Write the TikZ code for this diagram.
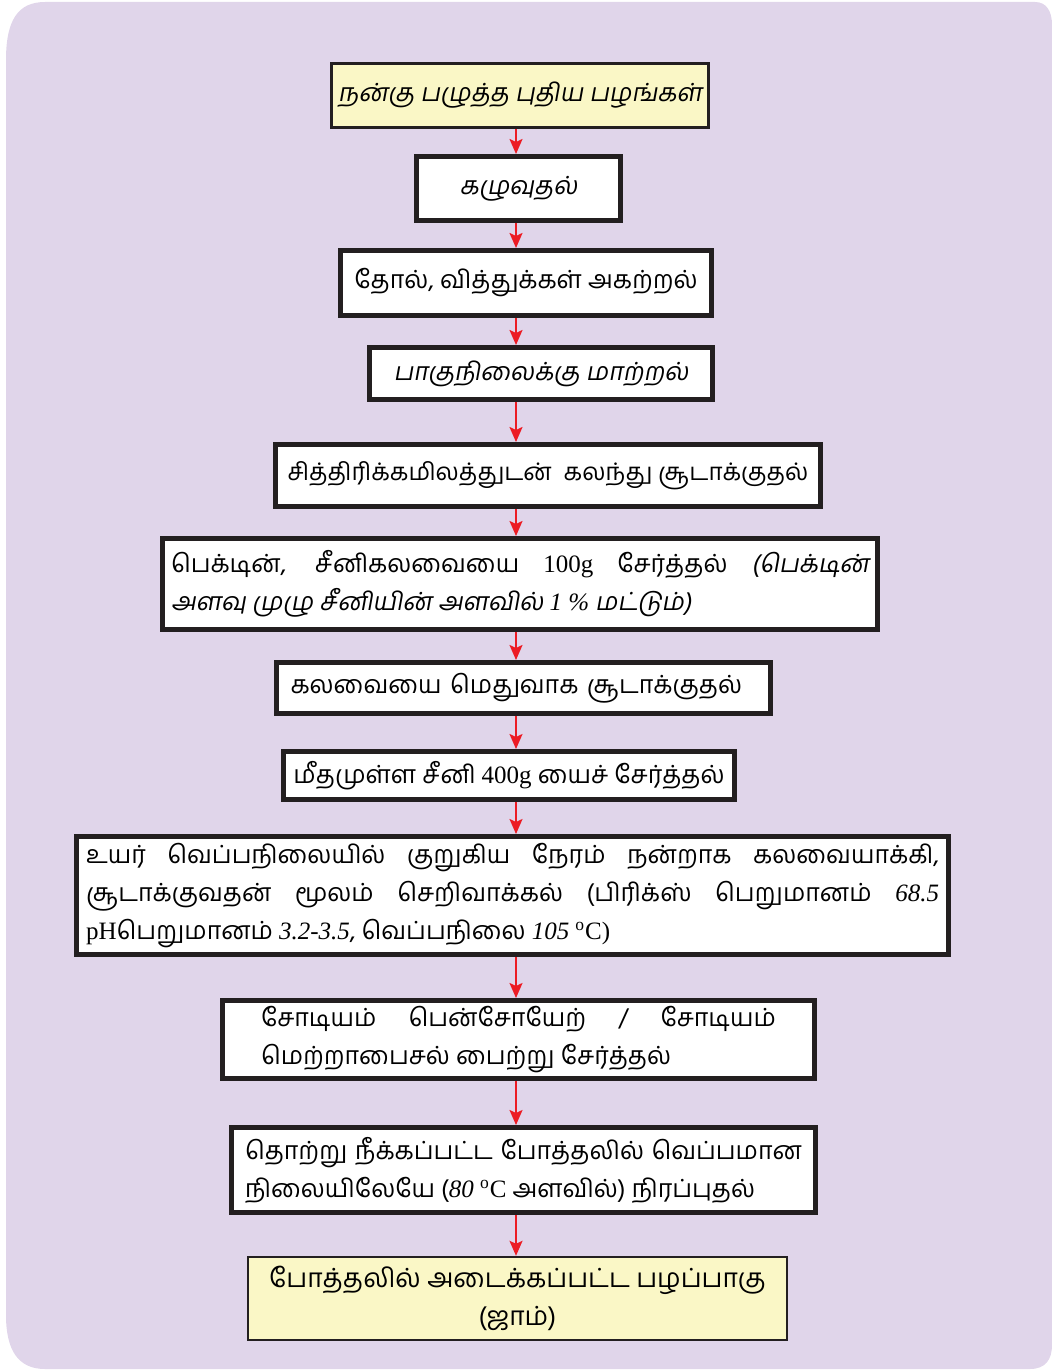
\documentclass[tikz,border=0pt]{standalone}
\usepackage{fontspec}
\usepackage{xcolor}
\usepackage{tikz}
\usetikzlibrary{
  arrows.meta,
  positioning,
  calc
}
\newfontfamily\tamil[Script=Tamil]{Hind Madurai}
\newfontfamily\tamilsl[Script=Tamil,FakeSlant=0.18]{Hind Madurai}
\newfontfamily\jmlatin{Liberation Serif}
\definecolor{jmBack}{HTML}{E0D5EA}
\definecolor{jmYellow}{HTML}{FAF7C6}
\definecolor{jmLine}{HTML}{231F20}
\definecolor{jmArrow}{HTML}{EC1C24}
\tikzset{
  jmnode/.style={
    draw=jmLine, fill=white, line width=2.5pt, inner sep=0pt,
    align=center, font=\tamil\fontsize{12.5}{19}\selectfont
  },
  stepbox/.style={jmnode},
  endbox/.style={jmnode, fill=jmYellow, line width=1.2pt},
  textbox/.style={jmnode, align=justify},
  flow/.style={-{Stealth[length=7.5pt, width=6.5pt, inset=1.5pt]}, line width=1pt, jmArrow}
}

\begin{document}
\begin{tikzpicture}[x=0.5pt, y=-0.5pt]
  \useasboundingbox (0,0) rectangle (1052,1370);
  % background panel
  \fill[jmBack] (6,1315) -- (6,60) .. controls (6,20) and (18,2) .. (45,2)
    -- (1035,2) .. controls (1047,2) and (1052,12) .. (1052,25)
    -- (1052,1345) .. controls (1052,1360) and (1045,1369) .. (1030,1369)
    -- (45,1369) .. controls (18,1369) and (6,1350) .. (6,1315) -- cycle;
  \coordinate (ax) at (516,0);

  \node[endbox, minimum width=188.5pt, minimum height=32pt, line width=1.5pt,
    font=\tamilsl\fontsize{12.5}{19}\selectfont] (fresh) at (520,95.5)
    {நன்கு பழுத்த புதிய பழங்கள்};
  \node[stepbox, minimum width=102pt, minimum height=32pt,
    font=\tamilsl\fontsize{12.5}{19}\selectfont] (wash) at (518.5,188.5) {கழுவுதல்};
  \node[stepbox, minimum width=185.5pt, minimum height=32.5pt] (peel) at (526,283)
    {தோல், வித்துக்கள் அகற்றல்};
  \node[stepbox, minimum width=171.5pt, minimum height=26pt,
    font=\tamilsl\fontsize{12.5}{19}\selectfont] (pulp) at (541,373.5)
    {பாகுநிலைக்கு மாற்றல்};
  \node[stepbox, minimum width=272.5pt, minimum height=31pt,
    font=\tamil\fontsize{12.1}{19}\selectfont] (acid) at (548,475.5)
    {சித்திரிக்கமிலத்துடன்\ \ கலந்து சூடாக்குதல்};
  \node[textbox, minimum width=357.5pt, minimum height=45.5pt, text width=349pt] (pectin) at (520,584)
    {பெக்டின், சீனிகலவையை {\jmlatin 100g} சேர்த்தல் {\tamilsl (பெக்டின்\linebreak
     அளவு முழு சீனியின் அளவில் {\jmlatin\itshape 1 \%} மட்டும்)}};
  \node[stepbox, minimum width=247pt, minimum height=25.5pt, text width=233pt, align=left] (heat) at (523.5,688)
    {கலவையை மெதுவாக சூடாக்குதல்};
  \node[stepbox, minimum width=225.5pt, minimum height=24pt] (sugar) at (509,775.5)
    {மீதமுள்ள சீனி {\jmlatin 400g} யைச் சேர்த்தல்};
  \node[textbox, minimum width=436pt, minimum height=59pt, text width=426.5pt] (boil) at (512.5,895.5)
    {உயர் வெப்பநிலையில் குறுகிய நேரம் நன்றாக கலவையாக்கி,\linebreak
     சூடாக்குவதன் மூலம் செறிவாக்கல் (பிரிக்ஸ் பெறுமானம் {\jmlatin\itshape 68.5}\linebreak
     {\jmlatin pH}பெறுமானம் {\jmlatin\itshape 3.2-3.5}, வெப்பநிலை {\jmlatin\itshape 105} {\jmlatin\textsuperscript{o}C)}};
  \node[textbox, minimum width=296pt, minimum height=39pt, text width=257.5pt] (pres) at (518.5,1039.5)
    {சோடியம் பென்சோயேற் / சோடியம்\linebreak
     மெற்றாபைசல் பைற்று சேர்த்தல்};
  \node[textbox, minimum width=292pt, minimum height=42.5pt, text width=278.5pt] (fill) at (523.5,1170)
    {தொற்று நீக்கப்பட்ட போத்தலில் வெப்பமான\linebreak
     நிலையிலேயே ({\jmlatin\itshape 80} {\jmlatin\textsuperscript{o}C} அளவில்) நிரப்புதல்};
  \node[endbox, minimum width=269.5pt, minimum height=41.5pt,
    font=\tamil\fontsize{13.2}{19}\selectfont] (jam) at (517.5,1298.5)
    {போத்தலில் அடைக்கப்பட்ட பழப்பாகு\\(ஜாம்)};

  \foreach \a/\b in {fresh/wash, wash/peel, peel/pulp, pulp/acid, acid/pectin, pectin/heat,
    heat/sugar, sugar/boil, boil/pres, pres/fill, fill/jam}
    \draw[flow] (\a.south -| ax) -- (\b.north -| ax);
\end{tikzpicture}
\end{document}
